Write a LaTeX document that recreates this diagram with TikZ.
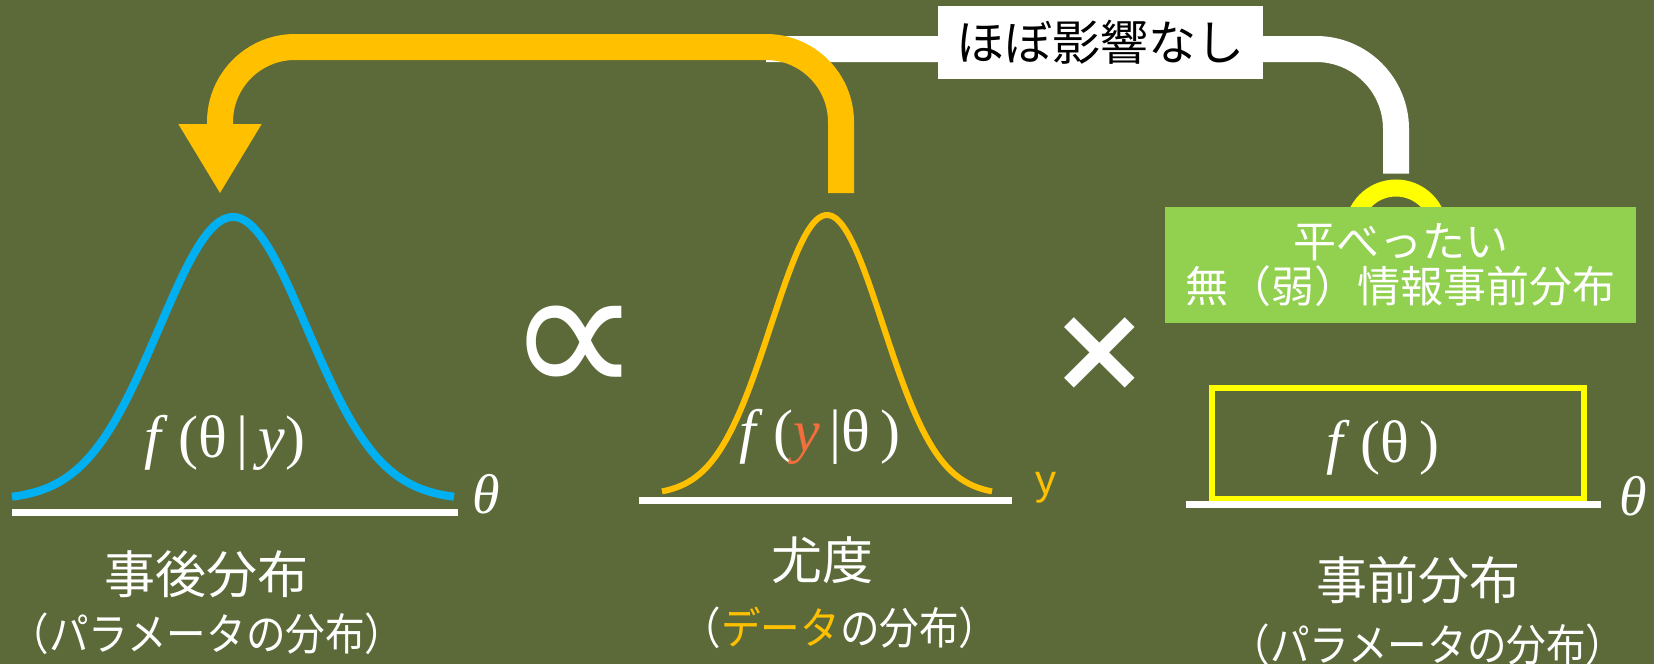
\documentclass[tikz,border=0pt]{standalone}
\usepackage{fontspec}
\setmainfont{Liberation Serif}
\newfontfamily\jpfont{Noto Sans CJK JP}
\newfontfamily\jpnarrow{Noto Sans CJK JP}[FakeStretch=0.9]
\newfontfamily\symfont{DejaVu Sans}
\newfontfamily\sansfont{Liberation Sans}
\usepackage{tikz}
\usetikzlibrary{arrows.meta,positioning}

\definecolor{board}{RGB}{92,106,58}
\definecolor{postblue}{RGB}{0,176,240}
\definecolor{likeyellow}{RGB}{255,192,0}
\definecolor{prioryellow}{RGB}{255,255,0}
\definecolor{flatgreen}{RGB}{146,208,80}
\definecolor{dataorange}{RGB}{242,110,60}

\begin{document}
\begin{tikzpicture}[
    x=0.5pt, y=-0.5pt,
    curve/.style={line width=4pt, line join=round},
    axis/.style={draw=white, line width=3.5pt},
    title/.style={text=white, font=\jpfont\fontsize{25.5}{30}\selectfont},
    sub/.style={text=white, font=\jpnarrow\fontsize{22}{26}\selectfont},
    formula/.style={text=white, font=\fontsize{30}{34}\selectfont},
    axislabel/.style={text=white, font=\itshape\fontsize{28}{32}\selectfont},
    op/.style={text=white, font=\symfont\bfseries\fontsize{60}{60}\selectfont},
    notebox/.style={rectangle, fill=white, inner sep=0pt, minimum width=162.5pt, minimum height=36.5pt, font=\jpfont\fontsize{24}{28}\selectfont},
    flatbox/.style={rectangle, fill=flatgreen, text=white, align=center, inner sep=0pt, minimum width=235.5pt, minimum height=58pt, font=\jpfont\fontsize{21.5}{22.5}\selectfont},
    ring/.style={circle, draw=prioryellow, line width=8.5pt, inner sep=0pt, minimum size=43pt},
    link/.style={draw=white, line width=13pt, rounded corners=40pt},
    bigarrow/.style={draw=likeyellow, line width=13pt, rounded corners=37.5pt, -{Triangle[width=39pt,length=35pt]}}
]
    % Board
    \useasboundingbox (0,0) rectangle (1654,664);
    \fill[board] (0,0) rectangle (1654,664);

    % Curves and axes
    \draw[curve, postblue] plot[domain=-221:221, samples=120, smooth] ({233+\x}, {500-283*exp(-0.5*(\x/74)^2)});
    \draw[axis] (12,512) -- (458,512);
    \draw[curve, likeyellow, line width=3pt] plot[domain=-165:165, samples=100, smooth] ({827+\x}, {495-280*exp(-0.5*(\x/56)^2)});
    \draw[axis] (639,500) -- (1012,500);
    \draw[prioryellow, line width=3pt] (1212,388) rectangle (1584,499);
    \draw[axis] (1186,504) -- (1601,504);

    % Formulas
    \node[formula] (post) at (225,443) {\textit{f}\,(θ\,|\,\textit{y})};
    \node[formula] (like) at (820,437) {\textit{f}\,(\textcolor{dataorange}{\textit{y}}\,|θ\,)};
    \node[formula] (prior) at (1383,448) {\textit{f}\,(θ\,)};

    % Axis labels
    \node[axislabel] (ax1) at (486,494) {θ};
    \node[text=likeyellow, font=\sansfont\fontsize{21}{24}\selectfont] (ax2) at (1046,488) {y};
    \node[axislabel] (ax3) at (1633,496) {θ};

    % Operators
    \node[op, font=\symfont\fontsize{95}{95}\selectfont] (prop) at (574,352) {∝};
    \node[op] (times) at (1100,354) {×};

    % Names
    \node[title] (postname) at (206,574) {事後分布};
    \node[sub] (postsub) at (207,634) {（パラメータの分布）};
    \node[title] (likename) at (822,560) {尤度};
    \node[sub] (likesub) at (840,628) {（\textcolor{likeyellow}{データ}の分布）};
    \node[title] (priorname) at (1418,580) {事前分布};
    \node[sub] (priorsub) at (1428,645) {（パラメータの分布）};

    % Flat prior note
    \node[ring] (hook) at (1396,231) {};
    \coordinate (linkend) at (766,49);
    \draw[link] ([yshift=3pt]hook.north) |- (linkend);
    \node[notebox] (note) at (1100,42.5) {ほぼ影響なし};
    \node[flatbox] (flat) at (1400.5,265) {平べったい\\無（弱）情報事前分布};

    % Arrow
    \coordinate (liketop) at (841,193);
    \coordinate (posttop) at (220,194);
    \draw[bigarrow] (liketop) -- ++(0,-146) -| (posttop);
\end{tikzpicture}
\end{document}
